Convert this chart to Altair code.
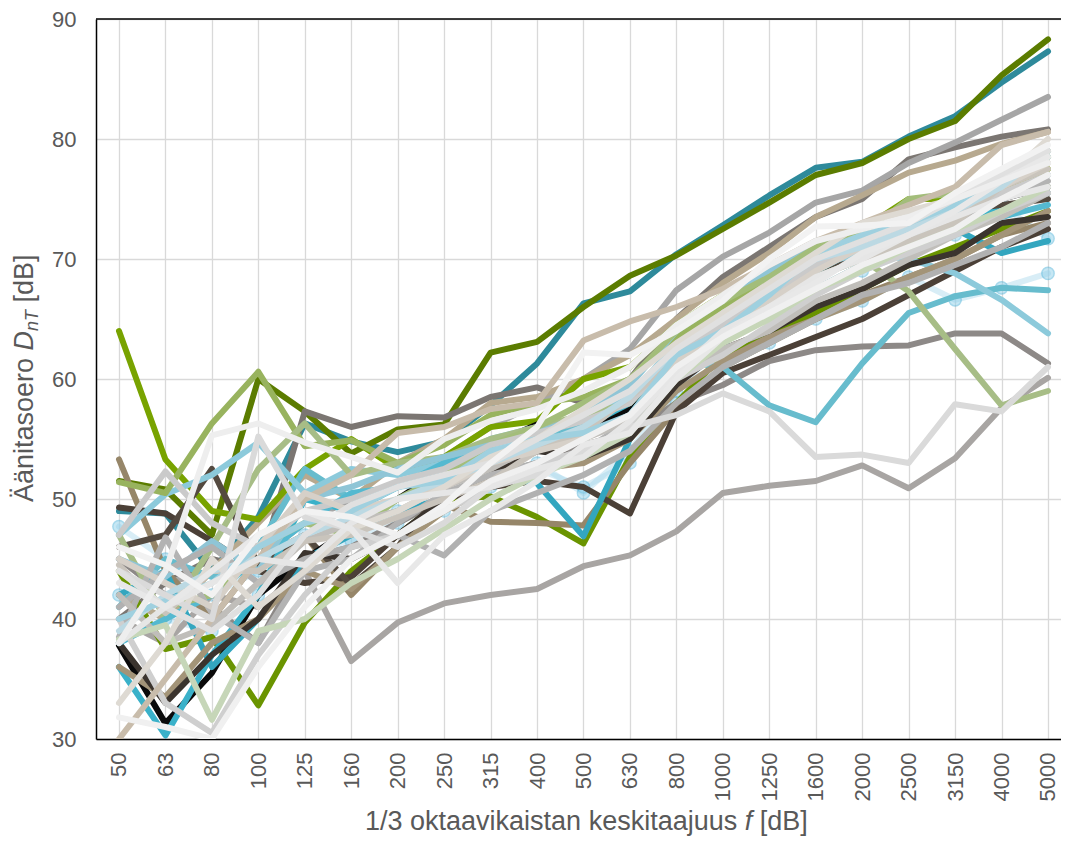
import altair as alt
import pandas as pd

freq_labels = ["50", "63", "80", "100", "125", "160", "200", "250", "315", "400", "500",
               "630", "800", "1000", "1250", "1600", "2000", "2500", "3150", "4000", "5000"]

y_ticks = [30, 40, 50, 60, 70, 80, 90]

# series values (dB), in drawing order
marker_a = [47.7, 45.0, 42.0, 44.0, 47.0, 48.0, 49.0, 49.0, 51.0, 52.5, 51.0, 53.0, 58.0, 61.0, 63.0, 65.0, 66.5, 68.5, 66.6, 67.6, 68.8]
marker_b = [42.0, 40.0, 39.0, 42.0, 45.0, 46.5, 48.0, 50.0, 52.0, 53.0, 50.5, 54.0, 59.0, 63.0, 65.5, 67.5, 69.0, 70.5, 72.0, 74.5, 71.7]
teal_top = [49.0, 48.8, 44.0, 48.5, 56.3, 54.8, 53.9, 54.8, 57.8, 61.3, 66.3, 67.3, 70.4, 72.8, 75.3, 77.6, 78.1, 80.2, 81.9, 84.7, 87.3]
olive_top = [51.5, 50.8, 47.0, 60.0, 57.3, 53.8, 55.8, 56.2, 62.2, 63.1, 66.0, 68.6, 70.3, 72.5, 74.7, 77.0, 78.0, 80.0, 81.5, 85.3, 88.3]
gray_low = [40.0, 38.0, 42.0, 41.0, 44.0, 36.5, 39.7, 41.3, 42.0, 42.5, 44.4, 45.3, 47.3, 50.5, 51.1, 51.5, 52.8, 50.9, 53.4, 57.6, 60.1]
gray_plateau = [45.0, 42.0, 41.0, 38.0, 45.0, 46.0, 48.0, 50.0, 52.0, 53.0, 54.5, 55.5, 58.0, 59.5, 61.5, 62.4, 62.7, 62.8, 63.8, 63.8, 61.3]
gray_dark = [40.0, 43.0, 45.0, 44.0, 57.3, 56.0, 56.9, 56.8, 58.5, 59.3, 58.0, 60.0, 65.0, 68.5, 71.0, 73.5, 75.0, 78.3, 79.3, 80.2, 80.8]
gray_upper = [45.0, 43.0, 44.0, 45.0, 48.0, 50.0, 51.0, 53.5, 56.0, 58.0, 60.0, 62.5, 67.4, 70.2, 72.2, 74.7, 75.7, 78.0, 79.7, 81.6, 83.5]
tan_upper = [42.0, 40.0, 44.0, 48.0, 52.0, 50.0, 53.0, 55.0, 58.0, 58.5, 60.0, 62.0, 65.0, 68.0, 70.5, 73.5, 75.3, 77.2, 78.2, 79.6, 80.6]
green_bright = [64.0, 53.3, 49.0, 48.3, 52.5, 55.0, 52.5, 53.5, 56.0, 56.5, 60.0, 61.0, 64.5, 67.0, 69.0, 70.5, 72.5, 75.0, 75.0, 76.0, 77.5]
green_dip = [44.0, 37.5, 38.5, 32.8, 39.7, 44.0, 47.0, 50.0, 50.2, 48.5, 46.3, 53.5, 58.0, 62.0, 63.5, 65.5, 67.5, 69.5, 71.0, 72.5, 74.0]
tan_brown = [53.3, 44.0, 40.0, 45.0, 47.0, 42.0, 46.0, 49.5, 48.1, 48.0, 47.8, 53.0, 57.5, 61.0, 63.0, 65.0, 67.0, 68.5, 70.0, 72.0, 73.0]
brown_dark = [49.3, 48.8, 46.5, 44.0, 43.0, 43.5, 47.0, 50.0, 51.0, 51.5, 51.0, 48.8, 57.3, 60.5, 62.0, 63.5, 65.0, 67.0, 69.0, 71.0, 72.5]
brown_dark2 = [46.0, 47.0, 52.5, 44.5, 47.0, 42.8, 46.0, 51.0, 53.5, 55.0, 56.0, 57.5, 62.0, 64.0, 66.0, 68.5, 70.5, 72.5, 73.5, 74.5, 75.0]
black = [37.8, 31.3, 35.5, 42.0, 45.0, 47.5, 50.0, 52.5, 54.5, 56.2, 55.5, 57.5, 62.5, 65.0, 67.0, 69.0, 71.0, 72.5, 74.0, 75.0, 76.0]
teal_bright = [36.0, 30.3, 37.0, 42.0, 50.0, 49.0, 51.0, 52.0, 53.5, 55.0, 56.0, 58.0, 62.0, 64.5, 67.0, 69.0, 71.0, 72.5, 73.5, 74.0, 75.5]
teal_mid = [42.0, 44.0, 36.0, 40.0, 45.0, 47.0, 49.0, 50.0, 52.0, 51.3, 46.9, 55.0, 60.0, 63.5, 65.5, 67.5, 69.5, 71.5, 72.5, 70.5, 71.5]
teal_light_dip = [41.0, 45.0, 43.5, 46.0, 52.5, 50.0, 51.0, 52.0, 53.5, 55.0, 56.0, 59.0, 61.5, 61.0, 57.8, 56.4, 61.3, 65.5, 66.9, 67.6, 67.4]
blue_light = [47.0, 50.4, 52.0, 54.7, 50.5, 52.5, 52.0, 53.0, 55.0, 56.0, 56.5, 58.5, 63.0, 66.0, 68.0, 69.5, 70.5, 70.0, 68.8, 66.6, 63.8]
sage = [51.4, 50.5, 56.3, 60.6, 54.4, 54.9, 53.0, 54.5, 57.0, 58.0, 58.5, 60.0, 63.5, 66.0, 68.0, 70.0, 71.5, 73.5, 74.5, 76.0, 78.5]
sage_drop = [47.0, 40.0, 46.0, 52.5, 56.3, 52.0, 53.0, 53.5, 55.0, 56.0, 57.0, 58.0, 62.0, 64.5, 66.5, 68.5, 70.0, 67.3, 62.5, 57.8, 59.0]
tan_brown2 = [36.0, 33.5, 38.0, 40.0, 44.0, 42.5, 46.0, 49.0, 51.0, 52.5, 53.0, 55.0, 59.0, 61.5, 63.5, 65.0, 66.5, 68.5, 70.0, 72.0, 74.0]
brown_black = [38.0, 33.0, 37.0, 40.0, 45.5, 45.0, 47.0, 50.0, 52.0, 54.0, 53.5, 55.0, 59.5, 62.5, 64.0, 66.0, 67.5, 69.5, 70.5, 73.0, 73.5]
teal_bundle = [38.0, 40.0, 42.0, 45.0, 48.0, 50.5, 51.0, 53.0, 54.0, 54.5, 55.0, 57.0, 62.0, 65.0, 67.5, 69.5, 71.0, 72.0, 72.5, 73.5, 74.5]
blue_bundle = [45.0, 43.5, 46.5, 44.0, 50.0, 51.0, 52.5, 53.5, 54.5, 55.5, 57.0, 59.5, 64.0, 66.5, 69.0, 71.5, 72.0, 73.5, 74.5, 75.0, 77.0]
green_bundle = [44.0, 41.0, 42.0, 46.0, 48.0, 47.0, 50.0, 52.0, 54.5, 56.0, 58.0, 60.0, 64.0, 66.5, 68.5, 71.0, 72.0, 75.0, 75.5, 77.0, 79.0]
gray_b1 = [38.5, 46.8, 40.5, 38.0, 44.0, 45.0, 48.0, 50.5, 52.0, 53.0, 54.0, 56.5, 60.5, 63.0, 66.0, 68.5, 70.0, 71.5, 73.0, 75.0, 76.5]
gray_b2 = [41.0, 44.0, 46.0, 43.0, 45.0, 46.0, 47.0, 45.3, 49.0, 50.5, 52.0, 54.0, 58.0, 61.0, 63.0, 65.0, 67.0, 68.0, 69.5, 71.0, 73.0]
gray_b3 = [42.0, 38.0, 39.5, 43.0, 46.5, 48.0, 49.0, 51.0, 52.5, 54.5, 55.0, 56.5, 60.0, 62.5, 64.0, 66.5, 68.0, 70.0, 72.0, 73.5, 75.5]
gray_b4 = [47.0, 52.3, 48.0, 46.0, 49.0, 50.0, 51.5, 52.5, 54.5, 55.5, 56.5, 58.0, 62.0, 64.5, 67.0, 69.5, 71.0, 72.5, 73.5, 75.5, 77.0]
gray_b5 = [40.0, 33.0, 30.5, 37.0, 42.0, 46.0, 47.0, 49.0, 51.0, 53.0, 54.0, 56.0, 60.0, 62.0, 64.5, 67.0, 69.0, 70.5, 72.0, 74.0, 75.5]
tan_light = [30.0, 35.0, 40.0, 45.0, 50.0, 52.0, 55.5, 56.0, 57.5, 58.0, 63.2, 64.8, 66.0, 67.5, 69.5, 71.5, 73.0, 74.5, 76.0, 79.5, 80.6]
tan_b1 = [44.5, 40.5, 44.0, 44.0, 46.5, 47.0, 48.5, 50.0, 51.5, 54.0, 55.5, 58.5, 61.5, 63.5, 65.5, 67.5, 69.5, 71.5, 73.0, 76.0, 77.5]
tan_b2 = [45.0, 43.0, 41.0, 46.0, 50.5, 49.0, 50.0, 51.0, 53.0, 54.0, 55.0, 57.0, 61.5, 64.0, 66.5, 69.0, 71.0, 72.5, 74.5, 76.0, 78.0]
sage_light = [38.3, 39.5, 31.6, 39.0, 40.0, 43.0, 45.0, 47.5, 50.0, 52.0, 53.5, 55.5, 60.0, 63.0, 65.0, 67.5, 69.0, 71.0, 72.5, 74.0, 76.0]
blue_b1 = [39.0, 42.0, 44.0, 45.0, 47.0, 48.5, 50.0, 51.5, 53.0, 54.5, 56.0, 58.5, 62.5, 65.5, 67.5, 70.0, 71.0, 72.5, 74.0, 76.0, 79.0]
blue_b2 = [40.0, 41.5, 43.0, 46.0, 48.0, 49.0, 51.0, 51.5, 54.0, 55.0, 55.5, 57.0, 62.0, 64.0, 67.0, 70.5, 72.0, 73.0, 74.5, 76.5, 78.5]
tan_b3 = [33.0, 38.0, 45.0, 41.0, 44.0, 47.5, 49.0, 51.0, 53.5, 55.0, 57.5, 60.0, 63.0, 65.5, 68.0, 70.5, 73.0, 74.0, 75.0, 76.5, 80.0]
gray_light_drop = [44.0, 42.0, 40.0, 55.2, 48.5, 47.5, 46.0, 48.0, 51.0, 52.0, 54.0, 56.0, 57.0, 58.8, 57.3, 53.5, 53.7, 53.0, 57.9, 57.3, 61.0]
gray_w1 = [44.0, 41.0, 39.0, 42.0, 47.0, 49.5, 51.0, 52.0, 53.0, 55.0, 57.0, 59.0, 62.5, 65.0, 67.5, 70.0, 71.5, 73.0, 75.0, 77.0, 79.0]
gray_w2 = [38.0, 41.0, 43.0, 45.0, 44.5, 48.0, 50.0, 50.5, 51.0, 52.5, 53.5, 56.5, 60.5, 64.0, 66.0, 68.5, 70.0, 72.0, 73.5, 75.0, 76.0]
gray_w3 = [43.0, 41.0, 44.0, 47.0, 49.0, 47.5, 43.0, 47.0, 49.0, 51.5, 54.5, 55.5, 60.0, 63.5, 66.0, 68.0, 70.5, 72.0, 74.0, 76.5, 78.5]
white_peak = [38.0, 44.0, 55.3, 56.3, 54.7, 53.5, 52.2, 55.0, 56.5, 57.5, 59.0, 61.0, 64.5, 67.0, 69.5, 71.5, 72.5, 73.5, 75.0, 76.5, 78.0]
white_b1 = [46.0, 44.5, 42.0, 47.0, 49.0, 48.5, 47.0, 49.5, 53.0, 56.0, 62.2, 62.0, 64.0, 66.5, 70.0, 72.7, 72.8, 73.0, 75.5, 77.5, 79.5]
white_low = [31.8, 31.0, 30.0, 36.0, 41.0, 45.0, 47.0, 49.0, 51.5, 53.0, 55.0, 57.0, 61.0, 63.5, 65.5, 67.5, 69.5, 71.0, 72.5, 75.0, 77.0]

series = [
    (marker_a, "#a9d8ec"), (marker_b, "#a9d8ec"),
    (teal_top, "#2e8a9b"), (olive_top, "#5b7c00"), (gray_low, "#a8a5a3"),
    (gray_plateau, "#8d8987"), (gray_dark, "#7b7672"), (gray_upper, "#a6a6a6"),
    (tan_upper, "#b7a98f"), (green_bright, "#78a300"), (green_dip, "#6a9400"),
    (tan_brown, "#968669"), (brown_dark, "#4b4037"), (brown_dark2, "#544a40"),
    (black, "#0a0a0a"), (teal_bright, "#3ab1c9"), (teal_mid, "#33a6bf"),
    (teal_light_dip, "#67bccd"), (blue_light, "#8ccadb"), (sage, "#98b35e"),
    (sage_drop, "#a7bd86"), (tan_brown2, "#a39478"), (brown_black, "#3b342e"),
    (teal_bundle, "#55b9d0"), (blue_bundle, "#8fc5d6"), (green_bundle, "#a3bd7a"),
    (gray_b1, "#b3b3b3"), (gray_b2, "#b1b1b1"), (gray_b3, "#c0beba"),
    (gray_b4, "#cacaca"), (gray_b5, "#cfcfcf"), (tan_light, "#c8bcab"),
    (tan_b1, "#c9c4bc"), (tan_b2, "#d6d0c8"), (sage_light, "#c6d6b8"),
    (blue_b1, "#bcd9e3"), (blue_b2, "#9fd0df"), (tan_b3, "#dedad3"),
    (gray_light_drop, "#dadada"), (gray_w1, "#e0e0e0"), (gray_w2, "#e6e6e6"),
    (gray_w3, "#e8e8e8"), (white_peak, "#eeeeee"), (white_b1, "#f2f2f2"),
    (white_low, "#f0f0f0"),
]
marker_series = {"s01", "s02"}

rows = []
names, colors = [], []
for k, (vals, col) in enumerate(series):
    name = f"s{k + 1:02d}"
    names.append(name)
    colors.append(col)
    for i, v in enumerate(vals):
        rows.append({"name": name, "idx": i, "value": v,
                     "mk": name in marker_series})
df = pd.DataFrame(rows)

label_arr = "[" + ",".join(f"'{s}'" for s in freq_labels) + "]"
FONT = "Liberation Sans"
GRAY = "#595959"
W = 965
H = 720
LW = 6

x_enc = alt.X("idx:Q",
              scale=alt.Scale(domain=[-0.495, 20.28], nice=False, zero=False),
              axis=alt.Axis(values=[i / 2 for i in range(-1, 41)],
                            labelExpr=f"(datum.value % 1 === 0 && datum.value >= 0) ? {label_arr}[datum.value] : ''",
                            grid=True, gridColor="#d9d9d9", gridWidth=1.3,
                            ticks=False, domain=True, domainColor="#000000", domainWidth=1.5,
                            labelAngle=270, labelAlign="right", labelBaseline="middle",
                            labelFontSize=22, labelFont=FONT, labelColor=GRAY,
                            labelPadding=13, labelOverlap=False, title=None))
y_enc = alt.Y("value:Q",
              scale=alt.Scale(domain=[30, 90], nice=False, zero=False),
              axis=alt.Axis(values=y_ticks, grid=True, gridColor="#d9d9d9", gridWidth=1.3,
                            ticks=False, domain=True, domainColor="#000000", domainWidth=1.5,
                            labelFontSize=22, labelFont=FONT, labelColor=GRAY,
                            labelPadding=20, title=None))
color_enc = alt.Color("name:N", scale=alt.Scale(domain=names, range=colors), legend=None)

mk_lines = alt.Chart(df).transform_filter("datum.mk").mark_line(
    strokeWidth=LW, strokeJoin="round", strokeCap="round", clip=True, opacity=0.45
).encode(x=x_enc, y=y_enc, color=color_enc, order=alt.Order("idx:Q"))

markers = alt.Chart(df).transform_filter("datum.mk").mark_point(
    filled=True, size=150, opacity=0.5, color="#8fd0ea", stroke="#4fb3da", strokeWidth=1.5, clip=True
).encode(x="idx:Q", y="value:Q")

lines = alt.Chart(df).transform_filter("!datum.mk").mark_line(
    strokeWidth=LW, strokeJoin="round", strokeCap="round", clip=True
).encode(x="idx:Q", y="value:Q", color=color_enc, order=alt.Order("idx:Q"))

one = pd.DataFrame({"k": [0]})
top_line = alt.Chart(one).mark_rule(color="#000000", strokeWidth=1.5).encode(
    x=alt.value(0), x2=alt.value(W + 10), y=alt.value(0))

FS = 27
def txt(text, x, y, angle=0, italic=False, size=FS):
    kw = dict(text=text, font=FONT, fontSize=size, color=GRAY, align="left",
              baseline="alphabetic", angle=angle)
    if italic:
        kw["fontStyle"] = "italic"
    return alt.Chart(one).mark_text(**kw).encode(x=alt.value(x), y=alt.value(y))

SP = 278 * FS / 1000
# x title pieces
xs = 269
xb = 811
w1 = 13784 * FS / 1000
xt = [txt("1/3 oktaavikaistan keskitaajuus", xs, xb),
      txt("f", xs + w1 + SP, xb, italic=True),
      txt("[dB]", xs + w1 + SP + 278 * FS / 1000 + SP, xb)]

# y title pieces (rotated, reading upward)
ys = 483
yx = -63
p1 = 5336 * FS / 1000
p2 = 722 * FS / 1000
SUB = 18
p3 = 1167 * SUB / 1000
yt = [txt("Äänitasoero", yx, ys, angle=270),
      txt("D", yx, ys - p1 - SP, angle=270, italic=True),
      txt("nT", yx + 5, ys - p1 - SP - p2, angle=270, italic=True, size=SUB),
      txt("[dB]", yx, ys - p1 - SP - p2 - p3 - SP, angle=270)]

chart = alt.layer(mk_lines, markers, lines, top_line, *xt, *yt).properties(
    width=W, height=H,
    autosize=alt.AutoSizeParams(type="none"),
    padding={"left": 88, "top": 11, "right": 0, "bottom": 98},
).configure_view(stroke=None)

chart.save("out.html", embed_options={"renderer": "svg", "actions": False})
